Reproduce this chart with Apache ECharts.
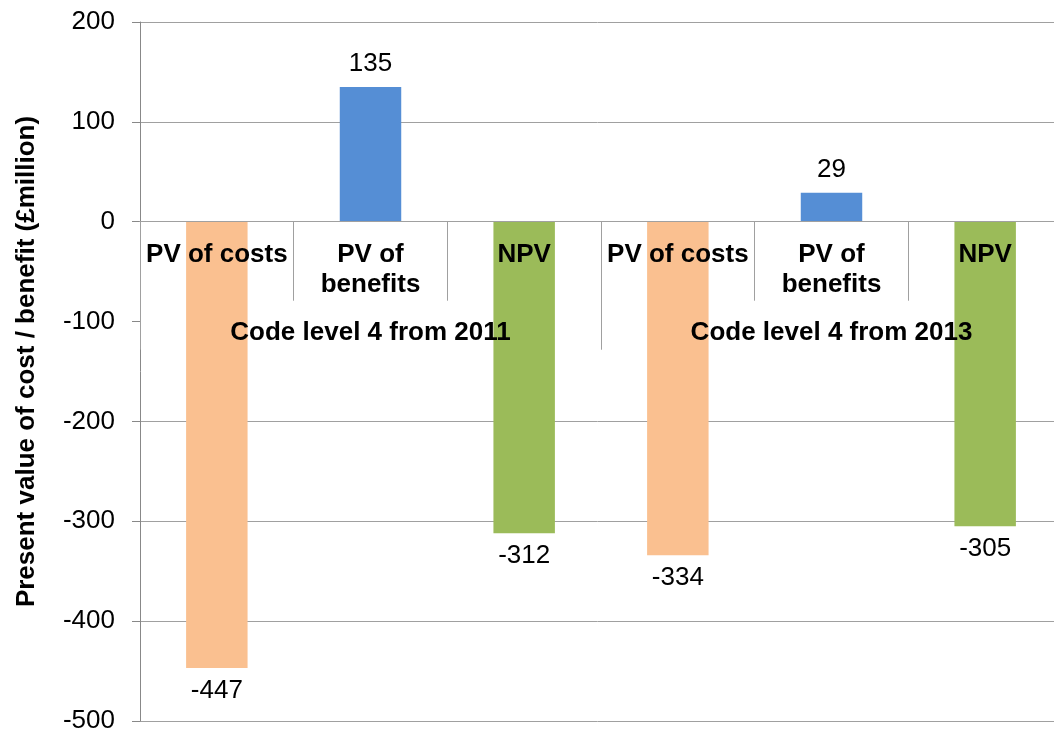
<!DOCTYPE html>
<html>
<head>
<meta charset="utf-8">
<script src="https://cdn.jsdelivr.net/npm/echarts@6/dist/echarts.min.js"></script>
<style>
  html, body { margin: 0; padding: 0; background: #fff; }
  #main { width: 1054px; height: 731px; }
</style>
</head>
<body>
<div id="main"></div>
<script>
// data
const categories = ['PV of costs', 'PV of benefits', 'NPV', 'PV of costs', 'PV of benefits', 'NPV'];
const groups = ['Code level 4 from 2011', 'Code level 4 from 2013'];
const values = [-447, 135, -312, -334, 29, -305];
const barColors = ['#FAC090', '#558ED5', '#9BBB59'];
const yTicks = { min: -500, max: 200, step: 100 };

const font = 'Liberation Sans, Arial, sans-serif';
const gridGray = '#A0A0A0';
const gridBottom = 10;

// -100 那条网格线被分组标签挡住，不画
const splitColors = [];
for (let v = yTicks.min; v <= yTicks.max; v += yTicks.step) {
  splitColors.push(v === -100 ? 'rgba(0,0,0,0)' : gridGray);
}

const chart = echarts.init(document.getElementById('main'));

const option = {
  animation: false,
  title: {
    text: 'Cost',
    left: 593,
    top: -20.5,
    padding: 0,
    textStyle: { fontFamily: font, fontSize: 27, fontWeight: 'bold', color: '#000' }
  },
  grid: { left: 140, right: -8, top: 22, bottom: gridBottom, containLabel: false, outerBoundsMode: 'none' },
  xAxis: [
    {
      type: 'category',
      data: categories,
      position: 'bottom',
      z: 10,
      axisLine: { show: true, onZero: false, lineStyle: { color: gridGray } },
      axisTick: { show: true, interval: 0, length: 79, lineStyle: { color: gridGray } },
      axisLabel: {
        interval: 0,
        margin: 18,
        fontFamily: font,
        fontSize: 26,
        fontWeight: 'bold',
        lineHeight: 30,
        color: '#000',
        formatter: v => v.replace('PV of ', 'PV of\n').replace('PV of\ncosts', 'PV of costs')
      },
      splitLine: { show: false }
    },
    {
      type: 'category',
      data: groups,
      position: 'bottom',
      z: 10,
      axisLine: { show: true, onZero: false, lineStyle: { color: gridGray } },
      axisTick: { show: true, length: 128, lineStyle: { color: gridGray } },
      axisLabel: {
        interval: 0,
        margin: 96,
        fontFamily: font,
        fontSize: 26,
        fontWeight: 'bold',
        lineHeight: 30,
        color: '#000'
      },
      splitLine: { show: false }
    }
  ],
  yAxis: {
    type: 'value',
    min: yTicks.min,
    max: yTicks.max,
    interval: yTicks.step,
    name: 'Present value of cost / benefit (£million)',
    nameLocation: 'middle',
    nameGap: 100,
    nameTextStyle: {
      fontFamily: font,
      fontSize: 26,
      fontWeight: 'bold',
      color: '#000',
      padding: [0, 0, 0, 20]
    },
    axisLine: { show: true, lineStyle: { color: '#888' } },
    axisTick: { show: true, length: 8, lineStyle: { color: '#888' } },
    axisLabel: { margin: 25, fontFamily: font, fontSize: 26, color: '#000' },
    splitLine: { show: true, lineStyle: { color: splitColors, width: 1 } }
  },
  series: [
    {
      type: 'bar',
      xAxisIndex: 0,
      barWidth: '40%',
      data: values.map((v, i) => ({
        value: v,
        itemStyle: { color: barColors[i % 3] },
        label: { position: v < 0 ? 'bottom' : 'top' }
      })),
      label: {
        show: true,
        distance: 10,
        fontFamily: font,
        fontSize: 26,
        color: '#000'
      }
    }
  ]
};

chart.setOption(option);

// 把分类轴移到 y=0 处：用库自己的比例尺求出 0 的像素位置
const zeroY = chart.convertToPixel({ yAxisIndex: 0 }, 0);
const bottomY = chart.convertToPixel({ yAxisIndex: 0 }, yTicks.min);
const shift = zeroY - bottomY;
chart.setOption({ xAxis: [{ offset: shift }, { offset: shift }] });
</script>
</body>
</html>
